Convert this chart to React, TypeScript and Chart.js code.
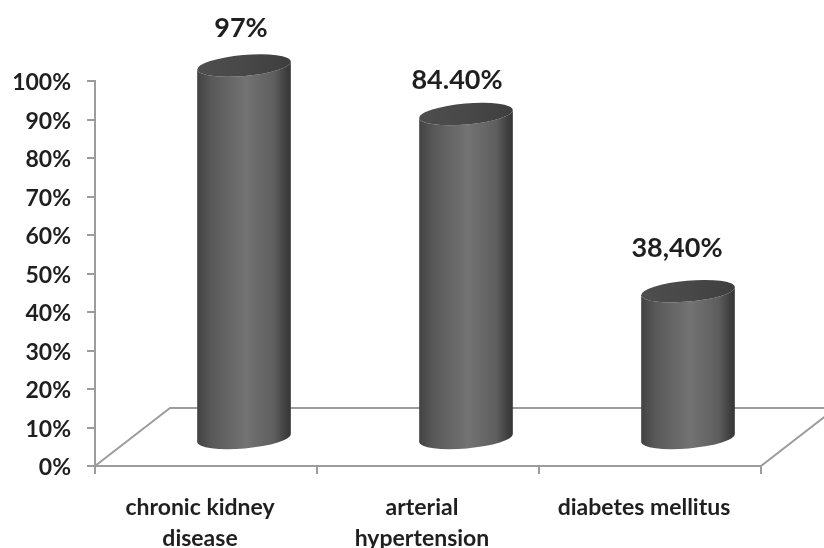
import React, { useEffect, useRef } from "react";
import { Chart, registerables, BarController, BarElement } from "chart.js";

Chart.register(...registerables);

const categories = [["chronic kidney", "disease"], ["arterial", "hypertension"], ["diabetes mellitus"]];
const seriesValues = [97, 84.4, 38.4];
const valueLabels = ["97%", "84.40%", "38,40%"];

const FONT = "Lato, 'Open Sans', sans-serif";
const AXIS_COLOR = "#9c9c9c";
const TEXT_COLOR = "#1f1f1f";

// Oblique projection of the floor: how far the back edge sits from the front edge.
const DEPTH_X = 75;
const DEPTH_Y = 58;
// Cylinders stand in the middle of the floor, not on its front edge.
const STAND_X = 38;
const STAND_Y = 27;
const CAP_RY = 10.5;
const CAP_TILT = (-5 * Math.PI) / 180;
const LABEL_NUDGE = [
  [-3, -37],
  [-9, -34],
  [-11, -43],
];

class CylinderElement extends BarElement {
  static id = "cylinder";
  draw(ctx: CanvasRenderingContext2D) {
    const { x, y, base, width } = this as any;
    const cx = x + STAND_X;
    const top = y - STAND_Y;
    const bottom = base - STAND_Y;
    const rx = width / 2;
    const endX = rx * Math.cos(CAP_TILT);
    const endY = rx * Math.sin(CAP_TILT);

    const body = ctx.createLinearGradient(cx - rx, 0, cx + rx, 0);
    body.addColorStop(0, "#424242");
    body.addColorStop(0.15, "#585858");
    body.addColorStop(0.52, "#737373");
    body.addColorStop(0.82, "#5e5e5e");
    body.addColorStop(0.95, "#3e3e3e");
    body.addColorStop(1, "#363636");

    ctx.save();
    ctx.fillStyle = body;
    ctx.beginPath();
    ctx.moveTo(cx - endX, top - endY);
    ctx.lineTo(cx - endX, bottom - endY);
    ctx.ellipse(cx, bottom, rx, CAP_RY, CAP_TILT, Math.PI, 0, true);
    ctx.lineTo(cx + endX, top + endY);
    ctx.ellipse(cx, top, rx, CAP_RY, CAP_TILT, 0, Math.PI, false);
    ctx.closePath();
    ctx.fill();

    const cap = ctx.createLinearGradient(cx - rx, 0, cx + rx, 0);
    cap.addColorStop(0, "#4e4e4e");
    cap.addColorStop(0.5, "#484848");
    cap.addColorStop(1, "#3e3e3e");
    ctx.fillStyle = cap;
    ctx.beginPath();
    ctx.ellipse(cx, top, rx, CAP_RY, CAP_TILT, 0, Math.PI * 2);
    ctx.fill();
    ctx.restore();
  }
}

class CylinderController extends BarController {
  static id = "cylinder";
  static defaults = { ...BarController.defaults, dataElementType: "cylinder" };
  static overrides = BarController.overrides;
}

Chart.register(CylinderElement, CylinderController);

// Draws the floor's receding edges behind the cylinders.
const floorPlugin = {
  id: "floor",
  beforeDatasetsDraw(chart: any) {
    const { ctx, scales } = chart;
    const left = scales.x.left;
    const right = scales.x.right;
    const front = scales.y.getPixelForValue(0);
    ctx.save();
    ctx.strokeStyle = AXIS_COLOR;
    ctx.lineWidth = 2;
    ctx.beginPath();
    ctx.moveTo(left, front);
    ctx.lineTo(left + DEPTH_X, front - DEPTH_Y);
    ctx.lineTo(right + DEPTH_X, front - DEPTH_Y);
    ctx.lineTo(right, front);
    ctx.stroke();
    ctx.restore();
  },
};

// Writes each value above its cylinder.
const valueLabelPlugin = {
  id: "valueLabels",
  afterDatasetsDraw(chart: any) {
    const { ctx } = chart;
    ctx.save();
    ctx.font = `bold 27px ${FONT}`;
    ctx.fillStyle = TEXT_COLOR;
    ctx.textAlign = "center";
    ctx.textBaseline = "middle";
    chart.getDatasetMeta(0).data.forEach((bar: any, i: number) => {
      const [nx, ny] = LABEL_NUDGE[i];
      ctx.fillText(valueLabels[i], bar.x + STAND_X + nx, bar.y - STAND_Y + ny);
    });
    ctx.restore();
  },
};

export default function App() {
  const ref = useRef<HTMLCanvasElement>(null);

  useEffect(() => {
    const chart = new Chart(ref.current!, {
      type: "cylinder" as any,
      data: {
        labels: categories as any,
        datasets: [{ data: seriesValues, barThickness: 94, backgroundColor: "#5c5c5c", clip: false }],
      },
      options: {
        animation: false,
        responsive: false,
        layout: { autoPadding: false, padding: { top: 81, right: 63, left: 0, bottom: 0 } },
        plugins: { legend: { display: false }, title: { display: false }, tooltip: { enabled: false } },
        scales: {
          x: {
            type: "category",
            afterFit: (s: any) => {
              s.height = 82;
            },
            border: { color: AXIS_COLOR, width: 2 },
            grid: { drawOnChartArea: false, drawTicks: true, tickLength: 8, color: AXIS_COLOR, lineWidth: 2, offset: true },
            ticks: {
              maxRotation: 0,
              autoSkip: false,
              padding: 18,
              labelOffset: -6,
              color: TEXT_COLOR,
              font: { family: FONT, size: 23, weight: "bold", lineHeight: 1.35 },
            },
          },
          y: {
            type: "linear",
            min: 0,
            max: 100,
            afterFit: (s: any) => {
              s.width = 95;
            },
            border: { color: AXIS_COLOR, width: 2 },
            grid: { drawOnChartArea: false, drawTicks: true, tickLength: 8, color: AXIS_COLOR, lineWidth: 2 },
            ticks: {
              stepSize: 10,
              padding: 16,
              labelOffset: 2,
              color: TEXT_COLOR,
              font: { family: FONT, size: 23, weight: "bold" },
              callback: (v: any) => `${v}%`,
            },
          },
        },
      } as any,
      plugins: [floorPlugin, valueLabelPlugin],
    });
    return () => chart.destroy();
  }, []);

  return (
    <div style={{ position: "absolute", left: 0, top: 0, width: 824, height: 548, background: "#fff" }}>
      <canvas ref={ref} width={824} height={548} style={{ display: "block" }} />
    </div>
  );
}
